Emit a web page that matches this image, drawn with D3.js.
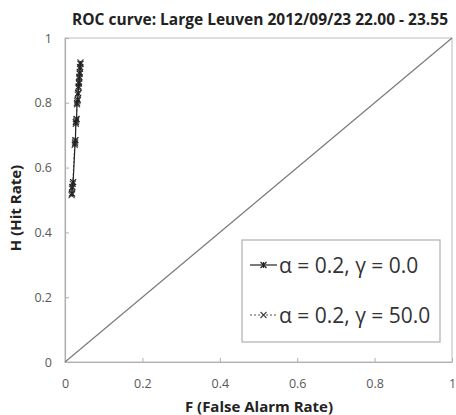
<!DOCTYPE html>
<html>
<head>
<meta charset="utf-8">
<script src="https://cdn.jsdelivr.net/npm/d3@7"></script>
<style>
  body { margin: 0; background: #fff; }
  text { font-family: "Open Sans", "Liberation Sans", sans-serif; }
</style>
</head>
<body>
<div id="container"></div>
<script>
// values
let ticks = [0, 0.2, 0.4, 0.6, 0.8, 1];
let tickLabels = ["0", "0.2", "0.4", "0.6", "0.8", "1"];
let seriesNames = ["α = 0.2, γ = 0.0", "α = 0.2, γ = 50.0"];

let fA = [0.018, 0.019, 0.021, 0.026, 0.027, 0.028, 0.030, 0.031, 0.033, 0.034, 0.035, 0.036, 0.037, 0.038, 0.039, 0.040];
let hA = [0.52, 0.54, 0.555, 0.675, 0.685, 0.74, 0.75, 0.80, 0.81, 0.83, 0.85, 0.86, 0.88, 0.89, 0.91, 0.92];

let fB = [0.017, 0.018, 0.020, 0.025, 0.026, 0.028, 0.029, 0.031, 0.032, 0.033, 0.035, 0.036, 0.037, 0.038, 0.039, 0.040];
let hB = [0.515, 0.535, 0.55, 0.67, 0.68, 0.735, 0.745, 0.795, 0.805, 0.825, 0.845, 0.865, 0.875, 0.895, 0.905, 0.925];

let w = 456;
let h = 415;
let padLeft = 65, padRight = 452, padTop = 38, padBottom = 362;

let viz = d3.select("#container")
  .append("svg")
    .attr("width", w)
    .attr("height", h)
;

let xScale = d3.scaleLinear().domain([0, 1]).range([padLeft, padRight]);
let yScale = d3.scaleLinear().domain([0, 1]).range([padBottom, padTop]);

// plot frame
viz.append("rect")
    .attr("x", padLeft).attr("y", padTop)
    .attr("width", padRight - padLeft).attr("height", padBottom - padTop)
    .attr("fill", "none")
    .attr("stroke", "#c8c8c8")
    .attr("stroke-width", 1.2)
;

let xAxis = d3.axisBottom(xScale)
    .tickValues(ticks)
    .tickFormat(function(d, i){ return tickLabels[i]; })
    .tickSizeInner(-4)
    .tickSizeOuter(0)
    .tickPadding(17);
let xAxisGroup = viz.append("g")
    .attr("class", "xaxisgroup")
    .attr("transform", "translate(0," + padBottom + ")")
    .call(xAxis)
;

let yAxis = d3.axisLeft(yScale)
    .tickValues(ticks)
    .tickFormat(function(d, i){ return tickLabels[i]; })
    .tickSizeInner(-4)
    .tickSizeOuter(0)
    .tickPadding(13);
let yAxisGroup = viz.append("g")
    .attr("class", "yaxisgroup")
    .attr("transform", "translate(" + padLeft + ",0)")
    .call(yAxis)
;

viz.selectAll(".xaxisgroup path, .yaxisgroup path").attr("stroke", "#b0b0b0").attr("stroke-width", 1.2);
viz.selectAll(".xaxisgroup line, .yaxisgroup line").attr("stroke", "#b0b0b0");
viz.selectAll(".xaxisgroup text, .yaxisgroup text")
    .attr("fill", "#595959")
    .style("font-size", "12.5px")
    .style("font-family", "'Open Sans', sans-serif")
;

// diagonal
viz.append("line")
    .attr("x1", xScale(0)).attr("y1", yScale(0))
    .attr("x2", xScale(1)).attr("y2", yScale(1))
    .attr("stroke", "#7a7a7a")
    .attr("stroke-width", 1.2)
;

let lineMaker = d3.line()
    .x(function(d){ return xScale(d[0]); })
    .y(function(d){ return yScale(d[1]); })
;

let dataA = fA.map(function(f, i){ return [f, hA[i]]; });
let dataB = fB.map(function(f, i){ return [f, hB[i]]; });

function starMarker(g, x, y){
  let s = 3;
  g.append("path")
    .attr("d", "M" + (x-s) + "," + (y-s) + "L" + (x+s) + "," + (y+s) +
               "M" + (x-s) + "," + (y+s) + "L" + (x+s) + "," + (y-s) +
               "M" + x + "," + (y-s) + "L" + x + "," + (y+s))
    .attr("stroke", "#222").attr("stroke-width", 1.2).attr("fill", "none");
}
function crossMarker(g, x, y){
  let s = 3;
  g.append("path")
    .attr("d", "M" + (x-s) + "," + (y-s) + "L" + (x+s) + "," + (y+s) +
               "M" + (x-s) + "," + (y+s) + "L" + (x+s) + "," + (y-s))
    .attr("stroke", "#444").attr("stroke-width", 1.1).attr("fill", "none");
}

viz.append("path")
    .datum(dataB)
    .attr("d", lineMaker)
    .attr("fill", "none")
    .attr("stroke", "#555")
    .attr("stroke-dasharray", "2,2")
;
let mB = viz.append("g");
dataB.forEach(function(d){ crossMarker(mB, xScale(d[0]), yScale(d[1])); });

viz.append("path")
    .datum(dataA)
    .attr("d", lineMaker)
    .attr("fill", "none")
    .attr("stroke", "#222")
    .attr("stroke-width", 1.2)
;
let mA = viz.append("g");
dataA.forEach(function(d){ starMarker(mA, xScale(d[0]), yScale(d[1])); });

// legend
let legend = viz.append("g");
legend.append("rect")
    .attr("x", 242).attr("y", 240)
    .attr("width", 198).attr("height", 102)
    .attr("fill", "#fff")
    .attr("stroke", "#b0b0b0")
    .attr("stroke-width", 1.2)
;
let rows = [265, 315];
rows.forEach(function(ry, i){
  let ln = legend.append("line")
      .attr("x1", 250).attr("x2", 277)
      .attr("y1", ry).attr("y2", ry)
      .attr("stroke", i == 0 ? "#222" : "#555")
      .attr("stroke-width", 1.2);
  if (i == 1) { ln.attr("stroke-dasharray", "2,2"); crossMarker(legend, 263.5, ry); }
  else { starMarker(legend, 263.5, ry); }
  legend.append("text")
      .attr("x", 279).attr("y", ry + 7.5)
      .attr("fill", "#333")
      .style("font-size", "21px")
      .text(seriesNames[i]);
});

// titles
viz.append("text")
    .attr("x", 260).attr("y", 25)
    .attr("text-anchor", "middle")
    .style("font-size", "15.5px")
    .style("font-weight", "bold")
    .attr("fill", "#222")
    .text("ROC curve: Large Leuven 2012/09/23 22.00 - 23.55");

viz.append("text")
    .attr("x", 259).attr("y", 412)
    .attr("text-anchor", "middle")
    .style("font-size", "15px")
    .style("font-weight", "bold")
    .attr("fill", "#222")
    .text("F (False Alarm Rate)");

viz.append("text")
    .attr("transform", "translate(21,208) rotate(-90)")
    .attr("text-anchor", "middle")
    .style("font-size", "15px")
    .style("font-weight", "bold")
    .attr("fill", "#222")
    .text("H (Hit Rate)");
</script>
</body>
</html>
